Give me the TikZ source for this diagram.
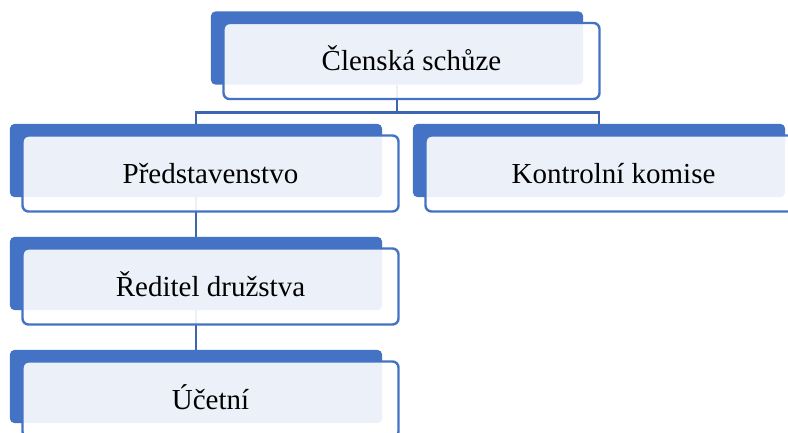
\documentclass[tikz,border=0pt]{standalone}
\usepackage{fontspec}
\setmainfont{Liberation Serif}
\usetikzlibrary{calc}
\definecolor{accent}{HTML}{4472C4}
\definecolor{linec}{HTML}{3C66B0}
\begin{document}
\begin{tikzpicture}[x=1pt,y=-1pt,
  backbox/.style={fill=accent,draw=none,rounded corners=5pt,minimum width=372pt,minimum height=73pt,inner sep=0pt},
  frontbox/.style={fill=white,fill opacity=0.9,draw=accent,draw opacity=1,text opacity=1,line width=2.4pt,rounded corners=6pt,minimum width=376pt,minimum height=76pt,inner sep=0pt,
    font=\fontsize{29}{34}\selectfont,text height=19pt,text depth=0pt},
  conn/.style={draw=linec,line width=2.6pt}]
\clip (0,0) rectangle (788,432);
\fill[white] (0,0) rectangle (788,432);
% back boxes (positions)
\coordinate (p1) at (397,48);
\coordinate (p2) at (196,160.5);
\coordinate (p3) at (599,160.5);
\coordinate (p4) at (196,273.5);
\coordinate (p5) at (196,386.5);
% connectors first (drawn behind)
\node[backbox,fill=none,draw=none] (b1) at (p1) {};
\node[backbox,fill=none,draw=none] (b2) at (p2) {};
\node[backbox,fill=none,draw=none] (b3) at (p3) {};
\node[backbox,fill=none,draw=none] (b4) at (p4) {};
\node[backbox,fill=none,draw=none] (b5) at (p5) {};
\coordinate (hub) at ($(b1.south)+(0,28)$);
\draw[conn] (b1.south) -- (hub) -| (b2.north);
\draw[conn] (hub) -| (b3.north);
\draw[conn] (b2.south) -- (b4.north);
\draw[conn] (b4.south) -- (b5.north);
% boxes
\foreach \n in {1,...,5}{\fill[accent,rounded corners=5pt] (b\n.north west) rectangle (b\n.south east);}
\node[frontbox] (w1) at ($(b1.center)+(14.5,13)$) {Členská schůze};
\node[frontbox] (w2) at ($(b2.center)+(14.5,13)$) {Představenstvo};
\node[frontbox] (w3) at ($(b3.center)+(14.5,13)$) {Kontrolní komise};
\node[frontbox] (w4) at ($(b4.center)+(14.5,13)$) {Ředitel družstva};
\node[frontbox] (w5) at ($(b5.center)+(14.5,13)$) {Účetní};
\end{tikzpicture}
\end{document}
